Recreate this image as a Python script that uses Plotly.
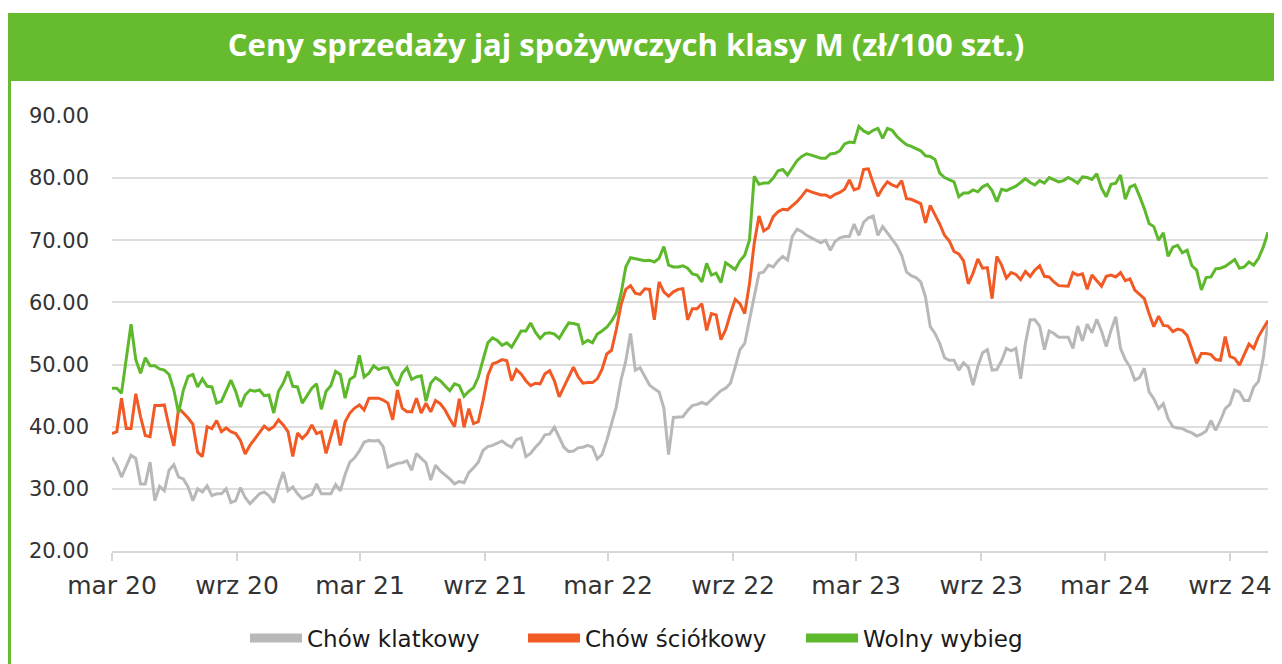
import pandas as pd
import plotly.graph_objects as go

title = "Ceny sprzedaży jaj spożywczych klasy M (zł/100 szt.)"
series_names = ["Chów klatkowy", "Chów ściółkowy", "Wolny wybieg"]
series_colors = ["#b8b8b8", "#f15a24", "#5eb82c"]

tick_dates = ["2020-03-01", "2020-09-01", "2021-03-01", "2021-09-01", "2022-03-01",
              "2022-09-01", "2023-03-01", "2023-09-01", "2024-03-01", "2024-09-01"]
tick_labels = ["mar 20", "wrz 20", "mar 21", "wrz 21", "mar 22",
               "wrz 22", "mar 23", "wrz 23", "mar 24", "wrz 24"]
y_ticks = [20, 30, 40, 50, 60, 70, 80, 90]

klatkowy = [
    35.1, 33.8, 31.9, 33.8, 35.4, 34.9, 30.8, 30.8, 34.3, 28.1,
    30.4, 29.7, 33.0, 33.9, 31.9, 31.6, 30.3, 28.1, 30.0, 29.5,
    30.5, 28.9, 29.2, 29.2, 30.0, 27.8, 28.1, 30.2, 28.6, 27.6,
    28.4, 29.2, 29.5, 28.9, 27.8, 30.5, 32.7, 29.7, 30.3, 29.2,
    28.4, 28.8, 29.1, 30.8, 29.2, 29.2, 29.2, 30.7, 29.7, 32.3,
    34.3, 35.0, 36.1, 37.5, 37.8, 37.7, 37.8, 36.8, 33.5, 33.8,
    34.1, 34.2, 34.5, 33.0, 35.7, 34.9, 34.2, 31.4, 33.8, 32.9,
    32.3, 31.6, 30.8, 31.2, 31.0, 32.6, 33.4, 34.3, 36.2, 36.8,
    37.0, 37.3, 37.7, 37.1, 36.7, 37.9, 38.2, 35.2, 35.7, 36.7,
    37.5, 38.7, 38.8, 39.9, 38.3, 36.7, 36.0, 36.1, 36.6, 36.7,
    37.0, 36.7, 34.8, 35.5, 37.8, 40.4, 43.2, 47.5, 50.6, 55.0,
    49.1, 49.5, 48.1, 46.7, 46.1, 45.6, 43.0, 35.5, 41.5, 41.6,
    41.6, 42.6, 43.4, 43.6, 43.9, 43.6, 44.3, 45.1, 45.8, 46.2,
    47.0, 49.6, 52.4, 53.4, 57.1, 60.9, 64.7, 64.9, 66.0, 65.7,
    66.7, 67.4, 66.8, 70.6, 71.8, 71.4, 70.8, 70.4, 70.0, 69.6,
    70.0, 68.4, 69.8, 70.4, 70.6, 70.6, 72.6, 70.8, 72.9, 73.6,
    73.9, 70.8, 72.2, 71.2, 70.3, 69.1, 67.6, 64.9, 64.3, 64.0,
    63.3, 60.9, 56.1, 55.0, 53.4, 51.1, 50.7, 50.7, 49.1, 50.3,
    49.6, 46.7, 49.7, 51.9, 52.4, 49.1, 49.2, 50.6, 52.6, 52.2,
    52.6, 47.7, 53.4, 57.2, 57.2, 56.2, 52.4, 55.4, 55.0, 54.4,
    54.4, 54.4, 52.6, 56.2, 53.8, 56.5, 55.1, 57.3, 55.4, 52.9,
    55.5, 57.7, 52.6, 50.8, 49.6, 47.5, 47.9, 49.4, 45.6, 44.5,
    42.9, 43.7, 41.3, 40.0, 39.8, 39.7, 39.3, 39.0, 38.5, 38.8,
    39.3, 41.0, 39.4, 41.0, 42.9, 43.6, 45.9, 45.6, 44.2, 44.2,
    46.4, 47.3, 51.0, 57.0,
]

scioltkowy = [
    38.9, 39.2, 44.6, 39.7, 39.7, 45.3, 41.6, 38.6, 38.4, 43.4,
    43.4, 43.5, 40.0, 36.9, 43.0, 42.2, 41.4, 40.4, 35.9, 35.2,
    40.0, 39.7, 41.0, 39.2, 39.8, 39.2, 38.9, 37.8, 35.6, 37.0,
    38.1, 39.2, 40.1, 39.5, 40.0, 41.1, 40.3, 39.2, 35.2, 39.0,
    38.1, 38.9, 40.3, 38.9, 39.2, 35.7, 38.4, 41.1, 37.0, 40.8,
    42.2, 43.0, 43.5, 42.7, 44.6, 44.6, 44.6, 44.3, 43.8, 41.1,
    45.9, 43.0, 42.4, 42.4, 44.6, 42.2, 43.8, 42.4, 44.2, 43.7,
    42.7, 41.3, 40.0, 44.5, 39.9, 42.9, 40.5, 40.8, 44.2, 48.2,
    50.1, 50.4, 50.8, 50.6, 47.4, 49.2, 48.5, 47.4, 46.6, 47.0,
    46.9, 48.5, 49.0, 47.4, 44.8, 46.4, 48.1, 49.6, 48.0, 47.0,
    47.1, 47.1, 47.7, 49.2, 51.7, 52.3, 55.6, 59.6, 62.1, 62.7,
    61.5, 61.3, 62.2, 62.1, 57.2, 63.3, 61.7, 61.0, 61.7, 62.1,
    62.2, 57.2, 59.0, 59.0, 59.8, 55.5, 58.2, 58.0, 54.0, 55.6,
    58.2, 60.5, 59.8, 58.2, 63.0, 69.5, 73.9, 71.5, 72.0, 73.8,
    74.6, 75.0, 74.9, 75.5, 76.2, 77.1, 78.1, 77.8, 77.5, 77.3,
    77.3, 76.9, 77.4, 77.7, 78.2, 79.7, 78.1, 78.4, 81.4, 81.5,
    79.2, 77.1, 78.4, 79.4, 78.9, 78.6, 79.6, 76.7, 76.6, 76.2,
    75.9, 72.8, 75.6, 74.1, 72.6, 70.8, 69.9, 68.2, 67.8, 66.7,
    63.0, 64.7, 67.0, 65.5, 65.6, 60.6, 67.4, 66.0, 63.9, 64.8,
    64.5, 63.7, 65.0, 64.2, 65.2, 65.9, 64.2, 64.1, 63.3, 62.7,
    62.6, 62.6, 64.8, 64.4, 64.6, 62.1, 64.4, 63.5, 62.6, 64.2,
    64.4, 64.1, 64.8, 63.5, 63.8, 62.0, 61.3, 60.6, 58.2, 56.1,
    57.8, 56.3, 56.2, 55.3, 55.7, 55.5, 54.7, 52.4, 50.2, 51.8,
    51.8, 51.6, 50.8, 50.7, 54.5, 51.3, 51.0, 49.9, 51.5, 53.3,
    52.6, 54.5, 55.8, 57.1,
]

wolny_wybieg = [
    46.2, 46.2, 45.4, 51.0, 56.5, 50.8, 48.6, 51.1, 49.8, 49.8,
    49.3, 49.1, 48.4, 45.9, 42.2, 45.9, 48.1, 48.4, 46.4, 47.7,
    46.5, 46.4, 43.8, 44.1, 45.7, 47.5, 45.7, 43.2, 45.1, 45.9,
    45.7, 45.9, 45.0, 45.1, 42.2, 45.7, 47.0, 48.9, 46.5, 46.4,
    43.8, 45.1, 46.2, 46.9, 42.8, 45.7, 46.6, 48.9, 48.4, 44.6,
    47.6, 48.1, 51.5, 48.0, 48.6, 49.8, 49.2, 49.5, 49.5, 47.8,
    46.6, 48.6, 49.5, 47.6, 48.0, 48.2, 44.1, 47.0, 47.9, 47.4,
    46.6, 45.8, 46.9, 46.6, 44.9, 45.7, 46.3, 48.0, 50.8, 53.5,
    54.3, 53.9, 53.1, 53.5, 52.8, 54.2, 55.4, 55.4, 56.7, 55.2,
    54.2, 55.0, 55.1, 54.9, 54.2, 55.5, 56.7, 56.6, 56.4, 53.4,
    53.9, 53.5, 54.9, 55.4, 56.0, 57.0, 58.3, 61.4, 65.7, 67.2,
    67.0, 66.9, 66.7, 66.8, 66.5, 67.1, 69.0, 66.0, 65.7, 65.7,
    65.9, 65.5, 64.6, 64.4, 63.3, 66.3, 64.4, 64.7, 63.2, 66.4,
    65.8, 65.3, 66.7, 67.6, 70.0, 80.3, 79.0, 79.2, 79.2, 80.0,
    81.2, 81.4, 80.5, 81.7, 82.8, 83.5, 83.9, 83.7, 83.5, 83.2,
    83.2, 83.9, 84.0, 84.4, 85.5, 85.8, 85.7, 88.3, 87.6, 87.2,
    87.7, 88.0, 86.4, 88.0, 87.7, 86.7, 86.0, 85.4, 85.1, 84.8,
    84.4, 83.6, 83.5, 83.0, 80.8, 80.1, 79.8, 79.4, 77.0, 77.6,
    77.6, 78.1, 77.8, 78.6, 79.0, 78.0, 76.2, 78.2, 78.0, 78.4,
    78.7, 79.3, 79.9, 79.3, 78.9, 79.6, 79.2, 80.1, 79.7, 79.4,
    79.6, 80.1, 79.7, 79.2, 80.2, 80.1, 79.8, 80.7, 78.4, 77.0,
    79.0, 79.2, 80.5, 76.6, 78.6, 78.9, 77.1, 75.1, 72.7, 72.2,
    70.0, 71.2, 67.4, 68.9, 69.2, 68.0, 68.4, 65.9, 65.2, 62.0,
    64.0, 64.1, 65.4, 65.5, 65.8, 66.3, 66.9, 65.5, 65.7, 66.5,
    66.0, 67.1, 68.9, 71.3,
]

dates = pd.date_range("2020-03-01", periods=len(wolny_wybieg), freq="7D")

# ---- layout geometry ----
# The page body has an 8 px margin, so figure px = page px - 8.
W, H = 1282, 664
OFF = 8
L, R, T, B = 112 - OFF, 1268 - OFF, 116 - OFF, 551 - OFF


def px2x(page_px):
    return (page_px - OFF - L) / (R - L)


def py2y(page_py):
    return (B - (page_py - OFF)) / (B - T)


fig = go.Figure()

for name, vals, col in zip(series_names, [klatkowy, scioltkowy, wolny_wybieg], series_colors):
    fig.add_trace(go.Scatter(x=dates, y=vals, mode="lines", name=name,
                             line=dict(color=col, width=3), showlegend=False))

for name, col in zip(series_names, series_colors):
    fig.add_trace(go.Scatter(x=[None], y=[None], mode="lines", name=name,
                             line=dict(color=col, width=9), showlegend=True))

GREEN_BAR = "#67bb2e"

fig.update_layout(
    width=W, height=H,
    margin=dict(l=L, r=W - R, t=T, b=H - B, pad=0, autoexpand=False),
    paper_bgcolor="white", plot_bgcolor="white",
    title=dict(text=title, x=(626 - OFF) / W, xanchor="center",
               y=1 - (45 - OFF) / H, yanchor="middle",
               xref="container", yref="container", automargin=False,
               font=dict(family="Open Sans", size=31, color="white", weight="bold")),
    shapes=[
        dict(type="rect", xref="paper", yref="paper", x0=px2x(8), x1=px2x(1300),
             y0=py2y(81), y1=py2y(13), fillcolor=GREEN_BAR, line=dict(width=0), layer="below"),
        dict(type="rect", xref="paper", yref="paper", x0=px2x(8), x1=px2x(11),
             y0=py2y(680), y1=py2y(81), fillcolor=GREEN_BAR, line=dict(width=0), layer="below"),
    ],
    legend=dict(orientation="h", xref="container", yref="container",
                x=(245 - OFF) / W, xanchor="left",
                y=1 - (638 - OFF) / H, yanchor="middle",
                entrywidth=211, entrywidthmode="pixels", itemwidth=52,
                font=dict(family="DejaVu Sans", size=23, color="#1a1a1a"),
                bgcolor="rgba(0,0,0,0)", traceorder="normal"),
    xaxis=dict(type="date", range=[dates[0], dates[-1]], tickvals=tick_dates, ticktext=tick_labels,
               showgrid=False, showline=True, linecolor="#d6d6d6", linewidth=2,
               ticks="outside", ticklen=8, tickwidth=2, tickcolor="#d6d6d6",
               ticklabelstandoff=3, automargin=False,
               tickfont=dict(family="DejaVu Sans", size=25, color="#333333"), zeroline=False),
    yaxis=dict(range=[20, 90], tickvals=y_ticks, tickformat=".2f",
               showgrid=True, gridcolor="#dedede", gridwidth=2, zeroline=False, showline=False,
               ticks="", ticklabelstandoff=22, automargin=False,
               tickfont=dict(family="DejaVu Sans", size=21, color="#333333")),
)

fig.write_html("out.html")
